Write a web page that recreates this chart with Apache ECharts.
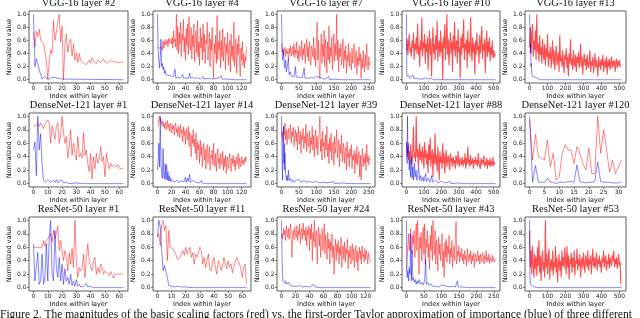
<!DOCTYPE html>
<html><head><meta charset="utf-8">
<script src="https://cdn.jsdelivr.net/npm/echarts@6/dist/echarts.min.js"></script>
<style>html,body{margin:0;padding:0;background:#fff}#c{width:640px;height:318px}</style>
</head><body><div id="c"></div>
<script>
// ---------- data ----------
const titles = ['VGG-16 layer #2','VGG-16 layer #4','VGG-16 layer #7','VGG-16 layer #10','VGG-16 layer #13',
 'DenseNet-121 layer #1','DenseNet-121 layer #14','DenseNet-121 layer #39','DenseNet-121 layer #88','DenseNet-121 layer #120',
 'ResNet-50 layer #1','ResNet-50 layer #11','ResNet-50 layer #24','ResNet-50 layer #43','ResNet-50 layer #53'];
const layerSizes = [64,128,256,512,512, 64,128,256,512,32, 64,64,128,256,512];
const sampleSteps = [1,1,2,4,4, 1,1,2,4,1, 1,1,1,2,4];
const yTicks = [0,0.2,0.4,0.6,0.8,1.0];
const xTicks32 = [0,5,10,15,20,25,30];
const xTicks64 = [0,10,20,30,40,50,60];
const xTicks128 = [0,20,40,60,80,100,120];
const xTicks256 = [0,50,100,150,200,250];
const xTicks512 = [0,100,200,300,400,500];
const caption = 'Figure 2. The magnitudes of the basic scaling factors (red) vs. the first-order Taylor approximation of importance (blue) of three different';

const vgg2Red = [0.72,0.50,0.74,0.66,0.77,0.60,0.57,0.55,0.52,0.30,0.01,0.28,0.45,0.40,0.90,0.60,0.72,0.88,1.00,0.58,0.82,0.00,0.52,0.70,0.42,0.55,0.62,0.36,0.55,0.30,0.41,0.26,0.40,0.30,0.33,0.25,0.27,0.23,0.26,0.30,0.26,0.33,0.28,0.30,0.25,0.30,0.27,0.26,0.29,0.32,0.27,0.29,0.26,0.28,0.29,0.27,0.28,0.30,0.27,0.28,0.26,0.29,0.27,0.27];
const vgg2Blue = [[0,1.0],[1,0.2],[2,0.32],[3,0.25],[4,0.15],[5,0.08],[6,0.01],[7,0.04],[8,0.05],[9,0.02],[10,0.0],[11,0.02],[12,0.03],[13,0.01],[14,0.04],[15,0.02],[16,0.03],[17,0.05],[18,0.02],[19,0.0],[20,0.01],[63,0.0]];

const vgg4Red = [0.50,0.49,0.50,0.48,0.51,0.47,0.50,0.45,0.60,0.48,
0.58,0.52,0.62,0.55,0.60,0.50,0.63,0.56,0.58,0.62,
0.55,0.65,0.48,0.75,0.58,0.62,0.50,1.00,0.45,0.82,
0.40,0.72,0.55,0.88,0.35,0.70,0.60,0.92,0.42,0.65,
0.30,0.78,0.52,0.85,0.38,0.96,0.55,0.45,0.80,0.32,
0.68,0.50,0.85,0.28,0.62,0.75,0.40,0.90,0.35,0.58,
0.22,0.80,0.48,0.65,0.30,0.85,0.42,0.70,0.25,0.60,
0.55,0.88,0.30,0.50,0.72,0.20,0.62,0.45,0.80,0.35,
0.02,0.55,0.40,0.68,0.25,0.98,0.30,0.58,0.45,0.75,
0.18,0.60,0.35,0.78,0.28,0.50,0.65,0.15,0.55,0.40,
0.72,0.22,0.48,0.60,0.12,0.70,0.35,0.52,0.28,0.88,
0.20,0.45,0.62,0.10,0.55,0.38,0.68,0.25,0.05,0.48,
0.30,0.58,0.22,0.40,0.18,0.35,0.28,0.50];
const vgg4Blue = [[0,1.0],[1,0.45],[2,0.28],[3,0.18],[4,0.35],[5,0.62],[6,0.2],[7,0.25],[8,0.15],[9,0.2],[10,0.1],[11,0.14],[12,0.08],[13,0.1],[14,0.05],[15,0.07],[17,0.04],[19,0.06],[21,0.03],[23,0.05],[25,0.16],[26,0.03],[29,0.04],[32,0.02],[36,0.08],[37,0.02],[40,0.03],[44,0.02],[46,0.1],[47,0.02],[50,0.04],[53,0.02],[57,0.03],[61,0.01],[65,0.05],[66,0.01],[72,0.02],[78,0.01],[85,0.02],[91,0.06],[92,0.01],[100,0.01],[110,0.0],[127,0.0]];

const vgg7Red = [0.55,0.42,0.48,0.38,0.45,0.50,0.35,0.47,0.40,0.44,
0.30,0.48,0.40,0.52,0.36,0.42,0.50,0.38,0.55,0.34,
0.46,0.40,0.58,0.32,0.45,0.28,0.52,0.42,0.35,0.60,
0.30,0.48,0.38,0.55,0.25,0.45,0.62,0.35,0.50,0.28,
0.58,0.40,0.22,0.52,0.45,0.35,0.65,0.30,0.48,0.20,
0.55,0.88,0.30,0.60,0.15,0.02,0.45,0.70,0.25,0.55,
0.35,0.75,0.20,0.62,0.40,0.10,0.58,0.30,0.82,0.25,
0.50,0.35,0.65,0.15,0.45,0.70,0.28,0.55,0.38,1.00,
0.30,0.60,0.12,0.48,0.35,0.55,0.22,0.40,0.62,0.18,
0.45,0.30,0.52,0.10,0.38,0.28,0.55,0.20,0.42,0.32,
0.15,0.48,0.25,0.38,0.55,0.18,0.30,0.45,0.08,0.35,
0.22,0.50,0.28,0.40,0.02,0.33,0.18,0.45,0.25,0.12,
0.38,0.20,0.55,0.28,0.15,0.35,0.22,0.26];
const vgg7Blue = [[0,1.0],[2,0.55],[4,0.3],[6,0.45],[8,0.22],[10,0.18],[12,0.3],[14,0.12],[16,0.15],[18,0.1],[20,0.32],[22,0.08],[25,0.12],[28,0.06],[32,0.08],[36,0.05],[40,0.2],[42,0.04],[46,0.07],[50,0.04],[55,0.06],[60,0.03],[65,0.18],[67,0.03],[72,0.05],[78,0.02],[85,0.04],[92,0.02],[100,0.05],[105,0.02],[112,0.03],[120,0.01],[128,0.02],[135,0.05],[138,0.0],[150,0.01],[170,0.0],[255,0.0]];

const vgg10Red = [0.45,0.62,0.38,0.55,0.70,0.42,0.50,0.35,0.60,0.48,
0.72,0.30,0.55,0.45,0.65,0.40,0.85,0.38,0.52,0.20,
0.60,0.45,0.95,0.35,0.58,0.48,0.70,0.25,0.55,0.42,
0.65,0.15,0.50,0.75,0.38,0.62,0.05,0.48,0.80,0.40,
0.55,0.30,0.68,0.45,0.90,0.28,0.52,0.60,0.35,0.75,
0.42,0.58,0.00,0.65,0.48,0.85,0.30,0.55,1.00,0.38,
0.62,0.22,0.50,0.72,0.40,0.58,0.12,0.68,0.45,0.88,
0.35,0.55,0.60,0.25,0.78,0.42,0.50,0.02,0.65,0.38,
0.70,0.48,0.92,0.30,0.55,0.45,0.62,0.18,0.75,0.40,
0.58,0.35,0.95,0.48,0.28,0.65,0.42,0.55,0.08,0.60,
0.38,0.72,0.45,0.52,0.25,0.68,0.40,0.58,0.82,0.32,
0.55,0.45,0.62,0.10,0.48,0.75,0.35,0.58,0.42,0.65,
0.28,0.50,0.38,0.60,0.32,0.45,0.35,0.40];
const vgg10Blue = [[0,1.0],[2,0.1],[4,0.05],[8,0.08],[12,0.03],[16,0.06],[20,0.02],[25,0.05],[30,0.03],[36,0.07],[42,0.02],[50,0.04],[58,0.02],[66,0.05],[75,0.01],[85,0.03],[95,0.01],[110,0.03],[125,0.01],[140,0.02],[160,0.0],[511,0.0]];

const vgg13Red = [0.50,0.80,0.40,0.70,0.85,0.35,0.60,0.45,0.75,0.30,
1.00,0.42,0.55,0.28,0.68,0.38,0.50,0.25,0.62,0.40,
0.30,0.55,0.22,0.48,0.35,0.70,0.20,0.42,0.32,0.50,
0.18,0.38,0.60,0.25,0.45,0.15,0.35,0.52,0.22,0.30,
0.42,0.12,0.68,0.28,0.35,0.20,0.45,0.25,0.10,0.38,
0.30,0.48,0.18,0.35,0.05,0.40,0.25,0.62,0.22,0.32,
0.15,0.45,0.28,0.20,0.38,0.12,0.35,0.25,0.42,0.18,
0.30,0.55,0.20,0.35,0.08,0.28,0.40,0.22,0.32,0.15,
0.38,0.25,0.18,0.30,0.45,0.12,0.28,0.22,0.35,0.10,
0.25,0.40,0.18,0.30,0.22,0.05,0.35,0.20,0.28,0.15,
0.32,0.22,0.38,0.12,0.25,0.30,0.18,0.35,0.08,0.28,
0.20,0.32,0.15,0.26,0.35,0.18,0.28,0.22,0.30,0.12,
0.25,0.32,0.18,0.28,0.22,0.30,0.20,0.22];
const vgg13Blue = [[0,1.0],[2,0.75],[4,0.4],[6,0.55],[8,0.2],[10,0.25],[12,0.1],[14,0.12],[16,0.05],[20,0.06],[24,0.02],[30,0.04],[36,0.01],[45,0.02],[60,0.0],[511,0.0]];

const dn1Red = [0.88,0.85,0.85,0.90,0.85,0.90,0.86,0.82,0.88,0.92,0.95,0.90,0.60,0.86,0.75,0.66,0.85,0.91,0.60,0.72,1.00,0.75,0.60,0.70,0.38,0.55,0.80,0.42,0.60,0.45,0.35,0.70,0.40,0.45,0.38,0.76,0.42,0.50,0.30,0.18,0.45,0.07,0.40,0.22,0.45,0.30,0.35,0.55,0.33,0.40,0.10,0.45,0.32,0.22,0.30,0.25,0.28,0.30,0.25,0.28,0.23,0.23,0.22,0.22];
const dn1Blue = [[0,0.5],[1,0.62],[2,0.12],[3,1.0],[4,0.5],[5,0.74],[6,0.3],[7,0.05],[8,0.02],[9,0.03],[10,0.06],[11,0.05],[12,0.02],[13,0.01],[14,0.05],[15,0.02],[16,0.06],[17,0.01],[18,0.04],[19,0.02],[20,0.05],[21,0.01],[23,0.02],[25,0.0],[30,0.01],[35,0.0],[36,0.02],[37,0.0],[63,0.0]];

const dn14Red = [0.85,0.88,0.95,1.00,0.92,0.96,0.88,0.93,0.85,0.90,
0.82,0.92,0.86,0.80,0.94,0.84,0.88,0.78,0.90,0.85,
0.75,0.88,0.80,0.86,0.72,0.84,0.90,0.76,0.82,0.70,
0.85,0.78,0.68,0.88,0.75,0.80,0.62,0.84,0.72,0.78,
0.58,0.82,0.70,0.65,0.85,0.55,0.76,0.68,0.40,0.72,
0.60,0.80,0.55,0.66,0.45,0.75,0.35,0.62,0.50,0.58,
0.30,0.65,0.42,0.55,0.25,0.50,0.60,0.35,0.52,0.22,
0.48,0.58,0.30,0.45,0.55,0.20,0.42,0.38,0.50,0.28,
0.60,0.35,0.25,0.45,0.18,0.40,0.52,0.30,0.38,0.22,
0.45,0.32,0.28,0.48,0.20,0.38,0.25,0.42,0.15,0.35,
0.40,0.22,0.32,0.45,0.28,0.18,0.38,0.30,0.42,0.25,
0.35,0.20,0.40,0.28,0.32,0.45,0.22,0.38,0.30,0.25,
0.40,0.30,0.35,0.28,0.38,0.32,0.40,0.35];
const dn14Blue = [[0,0.2],[1,0.35],[2,0.6],[3,0.25],[4,1.0],[5,0.3],[6,0.15],[7,0.08],[8,0.52],[9,0.1],[10,0.07],[11,0.3],[12,0.06],[13,0.28],[14,0.05],[15,0.18],[16,0.04],[17,0.12],[18,0.03],[19,0.08],[20,0.04],[22,0.06],[25,0.03],[28,0.05],[30,0.02],[34,0.04],[38,0.03],[40,0.1],[41,0.02],[43,0.08],[44,0.03],[46,0.14],[47,0.02],[50,0.05],[55,0.02],[60,0.01],[63,0.05],[64,0.01],[70,0.0],[127,0.0]];

const dn39Red = [0.70,0.78,0.62,0.85,0.72,0.90,0.65,0.80,0.58,0.75,
0.82,0.66,0.74,0.88,0.60,0.78,0.70,0.84,0.55,0.72,
0.80,0.62,0.76,0.50,0.85,0.68,0.58,0.78,0.45,0.72,
0.65,0.82,0.52,0.70,0.60,0.88,0.48,0.75,0.62,0.55,
0.78,0.45,0.68,0.58,0.85,0.50,0.72,0.40,0.65,0.80,
0.52,0.70,0.42,0.62,0.75,1.00,0.48,0.66,0.35,0.78,
0.55,0.62,0.38,0.72,0.50,0.85,0.40,0.60,0.30,0.68,
0.48,0.75,0.35,0.58,0.62,0.28,0.70,0.45,0.55,0.80,
0.38,0.52,0.65,0.25,0.58,0.45,0.72,0.32,0.50,0.60,
0.30,0.48,0.55,0.20,0.62,0.38,0.45,0.25,0.52,0.40,
0.58,0.22,0.42,0.35,0.50,0.15,0.45,0.30,0.55,0.28,
0.38,0.48,0.10,0.42,0.05,0.35,0.52,0.25,0.40,0.30,
0.45,0.20,0.58,0.32,0.42,0.28,0.38,0.35];
const dn39Blue = [[0,1.0],[2,0.3],[3,0.05],[4,0.5],[6,0.85],[7,0.3],[8,0.6],[9,0.2],[10,0.45],[12,0.15],[14,0.05],[16,0.12],[18,0.04],[20,0.2],[22,0.05],[25,0.08],[28,0.03],[32,0.06],[36,0.02],[40,0.05],[45,0.03],[50,0.06],[55,0.02],[60,0.04],[65,0.05],[70,0.02],[80,0.03],[90,0.02],[100,0.03],[110,0.01],[120,0.02],[130,0.01],[150,0.03],[152,0.0],[170,0.01],[200,0.0],[255,0.0]];

const dn88Red = [0.62,0.40,0.55,0.35,0.48,0.30,0.58,0.42,0.28,0.50,
0.85,0.38,0.45,0.32,1.00,0.40,0.52,0.25,0.45,0.60,
0.35,0.48,0.30,0.55,0.42,0.22,0.62,0.38,0.50,0.28,
0.45,0.15,0.58,0.35,0.68,0.25,0.40,0.52,0.10,0.45,
0.30,0.75,0.28,0.42,0.18,0.55,0.35,0.05,0.48,0.32,
0.40,0.22,0.60,0.30,0.45,0.15,0.38,0.50,0.25,0.35,
0.42,0.28,0.20,0.45,0.32,0.38,0.25,0.40,0.30,0.35,
0.22,0.42,0.35,0.28,0.48,0.30,0.25,0.38,0.32,0.28,
0.40,0.25,0.35,0.30,0.45,0.22,0.38,0.28,0.55,0.30,
0.35,0.25,0.42,0.28,0.32,0.38,0.22,0.35,0.30,0.40,
0.28,0.35,0.25,0.45,0.30,0.32,0.22,0.38,0.28,0.35,
0.30,0.42,0.25,0.32,0.28,0.38,0.22,0.35,0.30,0.27,
0.38,0.25,0.33,0.28,0.40,0.26,0.32,0.30];
const dn88Blue = [[0,0.6],[4,0.3],[6,1.0],[8,0.45],[12,0.6],[16,0.2],[20,0.35],[24,0.1],[28,0.4],[32,0.08],[36,0.25],[40,0.05],[45,0.3],[50,0.1],[55,0.2],[60,0.05],[65,0.15],[70,0.25],[75,0.05],[80,0.12],[88,0.04],[95,0.1],[100,0.03],[110,0.15],[115,0.03],[125,0.08],[135,0.02],[145,0.12],[150,0.02],[165,0.06],[180,0.01],[200,0.04],[220,0.01],[250,0.03],[255,0.0],[300,0.01],[320,0.0],[511,0.0]];

const dn120Red = [0.95,0.35,0.73,0.40,0.38,0.35,0.65,0.25,0.45,0.05,0.10,0.45,0.58,0.50,0.50,0.30,0.55,0.45,0.30,0.20,0.53,0.15,0.15,1.00,0.45,0.80,0.50,0.17,0.35,0.15,0.25,0.35];
const dn120Blue = [[0,1.0],[1,0.02],[2,0.27],[3,0.02],[4,0.02],[5,0.02],[6,0.08],[7,0.02],[8,0.02],[9,0.0],[10,0.02],[11,0.02],[12,0.02],[13,0.03],[14,0.03],[15,0.02],[16,0.28],[17,0.03],[18,0.02],[19,0.01],[20,0.02],[21,0.02],[22,0.03],[23,0.32],[24,0.03],[25,0.02],[26,0.02],[27,0.02],[28,0.01],[29,0.01],[30,0.01],[31,0.03]];

const rn1Red = [0.60,0.58,0.60,0.62,0.60,0.62,0.60,0.70,0.62,0.70,0.72,0.75,0.80,0.68,0.85,0.72,0.80,0.92,0.55,0.70,0.55,0.40,0.55,0.45,0.25,0.52,0.35,0.58,0.30,1.00,0.40,0.15,0.30,0.25,0.28,0.50,0.15,0.45,0.65,0.40,0.30,0.25,0.40,0.45,0.20,0.30,0.22,0.35,0.30,0.20,0.25,0.22,0.24,0.18,0.24,0.22,0.14,0.20,0.22,0.20,0.21,0.20,0.21,0.21];
const rn1Blue = [[0,0.65],[1,0.1],[2,0.08],[3,0.52],[4,0.05],[5,0.1],[6,0.5],[7,0.05],[8,0.15],[9,0.65],[10,0.1],[11,0.75],[12,1.0],[13,0.2],[14,0.1],[15,0.85],[16,0.3],[17,0.15],[18,0.45],[19,0.1],[20,0.35],[21,0.05],[22,0.28],[23,0.1],[24,0.15],[25,0.05],[26,0.2],[27,0.03],[28,0.1],[29,0.02],[30,0.12],[31,0.02],[32,0.05],[33,0.01],[35,0.02],[37,0.06],[38,0.01],[40,0.02],[42,0.0],[63,0.0]];

const rn11Red = [0.75,0.80,0.62,0.95,1.00,0.85,0.92,0.40,0.85,0.60,0.62,0.58,0.60,0.50,0.42,0.40,0.45,0.50,0.55,0.48,0.60,0.50,0.55,0.60,0.45,0.52,0.35,0.50,0.45,0.52,0.60,0.55,0.35,0.45,0.30,0.40,0.50,0.28,0.25,0.38,0.45,0.30,0.20,0.40,0.35,0.25,0.32,0.45,0.35,0.28,0.40,0.30,0.35,0.22,0.30,0.38,0.45,0.40,0.35,0.28,0.15,0.30,0.35,0.05];
const rn11Blue = [[0,0.75],[1,1.0],[2,0.9],[3,0.55],[4,0.25],[5,0.33],[6,0.35],[7,0.15],[8,0.03],[9,0.02],[10,0.02],[12,0.01],[14,0.02],[15,0.03],[17,0.01],[20,0.01],[25,0.0],[63,0.0]];

const rn24Red = [0.75,0.80,0.72,0.88,0.78,0.85,0.70,0.92,0.80,0.75,
0.88,0.72,0.82,0.95,0.68,0.45,0.78,0.85,0.72,0.90,
0.80,0.75,0.92,0.70,0.85,0.78,0.95,0.65,0.82,0.88,
0.72,0.96,0.78,0.85,0.70,0.90,0.62,0.85,0.78,0.92,
0.55,0.88,0.72,0.95,0.40,0.82,0.68,1.00,0.60,0.78,
0.85,0.35,0.75,0.90,0.62,0.80,0.45,0.72,0.88,0.55,
0.70,0.95,0.50,0.78,0.65,0.42,0.82,0.58,0.72,0.35,
0.68,0.55,0.80,0.45,0.62,0.20,0.58,0.72,0.40,0.65,
0.52,0.70,0.35,0.60,0.48,0.75,0.30,0.55,0.62,0.42,
0.68,0.38,0.58,0.50,0.72,0.28,0.55,0.45,0.62,0.35,
0.52,0.65,0.40,0.58,0.30,0.50,0.62,0.38,0.55,0.25,
0.48,0.60,0.42,0.55,0.35,0.62,0.45,0.50,0.38,0.58,
0.42,0.55,0.48,0.35,0.52,0.45,0.42,0.38];
const rn24Blue = [[0,1.0],[1,0.4],[2,0.1],[3,0.08],[4,0.12],[5,0.06],[6,0.1],[8,0.05],[10,0.08],[12,0.04],[14,0.06],[16,0.02],[18,0.04],[22,0.02],[26,0.03],[30,0.01],[35,0.02],[40,0.01],[46,0.05],[48,0.01],[55,0.0],[127,0.0]];

const rn43Red = [0.25,0.45,0.62,0.80,0.55,0.72,0.88,0.60,0.50,0.78,
0.65,0.85,0.45,0.70,0.95,0.55,1.00,0.62,0.20,0.75,
0.58,0.82,0.40,0.68,0.90,0.50,0.95,0.35,0.72,0.60,
0.85,0.45,0.65,0.28,0.78,0.55,0.92,0.40,1.00,0.62,
0.48,0.85,0.35,0.70,0.55,0.25,0.75,0.50,0.65,0.40,
0.60,0.80,0.30,0.55,0.15,0.68,0.45,0.72,0.38,0.62,
0.50,0.78,0.35,0.58,0.45,0.70,0.30,0.55,0.62,0.40,
0.72,0.98,0.35,0.55,0.48,0.62,0.38,0.52,0.45,0.58,
0.40,0.50,0.35,0.55,0.42,0.48,0.32,0.58,0.45,0.38,
0.50,0.42,0.55,0.35,0.48,0.40,0.52,0.30,0.45,0.50,
0.38,0.45,0.55,0.40,0.48,0.35,0.50,0.42,0.38,0.52,
0.45,0.35,0.48,0.42,0.55,0.38,0.45,0.40,0.50,0.36,
0.45,0.42,0.38,0.48,0.40,0.44,0.38,0.40];
const rn43Blue = [[0,1.0],[1,0.3],[2,0.15],[4,0.25],[6,0.1],[8,0.3],[10,0.2],[12,0.8],[14,0.1],[16,0.55],[18,0.12],[20,0.15],[22,0.08],[25,0.12],[28,0.05],[30,0.1],[33,0.06],[36,0.12],[40,0.05],[44,0.08],[48,0.04],[52,0.1],[55,0.42],[57,0.05],[60,0.08],[65,0.03],[70,0.06],[75,0.02],[80,0.04],[85,0.02],[90,0.03],[95,0.01],[100,0.04],[105,0.02],[110,0.03],[120,0.01],[130,0.02],[140,0.01],[146,0.1],[148,0.01],[160,0.01],[180,0.0],[255,0.0]];

const rn53Red = [0.85,0.30,0.55,0.20,0.62,0.35,0.15,0.50,0.28,0.45,
0.18,0.60,0.32,0.70,0.22,0.48,0.10,0.40,0.55,0.25,
0.38,0.15,1.00,0.30,0.50,0.20,0.45,0.58,0.12,0.35,
0.42,0.25,0.55,0.18,0.38,0.30,0.62,0.22,0.45,0.08,
0.35,0.50,0.25,0.40,0.15,0.55,0.32,0.45,0.28,0.60,
0.38,0.20,0.62,0.30,0.48,0.12,0.42,0.35,0.52,0.22,
0.45,0.30,0.55,0.18,0.40,0.35,0.58,0.25,0.42,0.32,
0.50,0.15,0.38,0.45,0.28,0.52,0.35,0.22,0.48,0.40,
0.30,0.55,0.25,0.42,0.35,0.48,0.20,0.40,0.58,0.32,
0.45,0.28,0.38,0.52,0.25,0.42,0.35,0.48,0.30,0.40,
0.22,0.45,0.38,0.55,0.30,0.42,0.48,0.25,0.40,0.35,
0.50,0.28,0.45,0.38,0.32,0.48,0.40,0.55,0.30,0.42,
0.35,0.45,0.28,0.40,0.50,0.32,0.38,0.05];
const rn53Blue = [[0,1.0],[2,0.2],[4,0.08],[6,0.05],[10,0.03],[16,0.02],[25,0.01],[40,0.0],[511,0.0]];

const redSeries = [vgg2Red,vgg4Red,vgg7Red,vgg10Red,vgg13Red,dn1Red,dn14Red,dn39Red,dn88Red,dn120Red,rn1Red,rn11Red,rn24Red,rn43Red,rn53Red];
const blueSeries = [vgg2Blue,vgg4Blue,vgg7Blue,vgg10Blue,vgg13Blue,dn1Blue,dn14Blue,dn39Blue,dn88Blue,dn120Blue,rn1Blue,rn11Blue,rn24Blue,rn43Blue,rn53Blue];
const xTickSets = {32:xTicks32,64:xTicks64,128:xTicks128,256:xTicks256,512:xTicks512};

// ---------- layout ----------
const colLeft = [29,153,277,402,525];
const colWidth = [99,98,98,98,101];
const rowTop = [11,113,217];
const rowHeight = [72,74,74];
const labelFont = {fontFamily:'DejaVu Sans', fontSize:6, color:'#222'};
const nameFont = {fontFamily:'DejaVu Sans', fontSize:6.5, color:'#111'};

const chart = echarts.init(document.getElementById('c'), null, {renderer:'canvas'});
const grid=[], xAxis=[], yAxis=[], series=[], graphic=[];
titles.forEach((t,k)=>{
  const c=k%5, r=Math.floor(k/5), n=layerSizes[k], step=sampleSteps[k];
  const dense = step >= 4;
  grid.push({left:colLeft[c], top:rowTop[r], width:colWidth[c], height:rowHeight[r], show:true, borderColor:'#333', borderWidth:0.8, backgroundColor:'#fff'});
  const xt = xTickSets[n];
  xAxis.push({type:'value', gridIndex:k, min:-0.05*(n-1), max:1.05*(n-1),
    axisLine:{show:false,onZero:false}, splitLine:{show:false},
    axisTick:{show:true, length:2, customValues:xt, lineStyle:{color:'#333',width:0.6}},
    axisLabel:Object.assign({customValues:xt, margin:2.5, formatter:v=>String(v)}, labelFont),
    name:'Index within layer', nameLocation:'middle', nameGap:9, nameTextStyle:nameFont});
  yAxis.push({type:'value', gridIndex:k, min:-0.05, max:1.05,
    axisLine:{show:false,onZero:false}, splitLine:{show:false},
    axisTick:{show:true, length:2, customValues:yTicks, lineStyle:{color:'#333',width:0.6}},
    axisLabel:Object.assign({customValues:yTicks, margin:2.5, formatter:v=>v.toFixed(1)}, labelFont),
    name:'Normalized value', nameLocation:'middle', nameGap:12, nameRotate:90, nameTextStyle:nameFont});
  series.push({type:'line', xAxisIndex:k, yAxisIndex:k, showSymbol:false, silent:true, sampling:null,
    data:redSeries[k].map((v,i)=>[i*step,v]),
    lineStyle:{color: dense ? 'rgba(255,0,0,0.7)' : 'rgba(255,0,0,0.6)', width: dense ? 1.1 : 0.8}, z:2});
  series.push({type:'line', xAxisIndex:k, yAxisIndex:k, showSymbol:false, silent:true,
    data:blueSeries[k], lineStyle:{color:'rgba(0,0,255,0.6)', width:0.8}, z:3});
  graphic.push({type:'text', x:colLeft[c]+colWidth[c]/2, y:rowTop[r]-7.5, silent:true,
    style:{text:t, fill:'#111', font:'10.5px "Liberation Serif"', textAlign:'center', textVerticalAlign:'middle'}});
});
graphic.push({type:'text', x:0, y:309, silent:true,
  style:{text:caption, fill:'#111', font:'11.5px "Liberation Serif"', textAlign:'left', textVerticalAlign:'top'}});

chart.setOption({animation:false, backgroundColor:'#fff', grid, xAxis, yAxis, series, graphic});
</script></body></html>
